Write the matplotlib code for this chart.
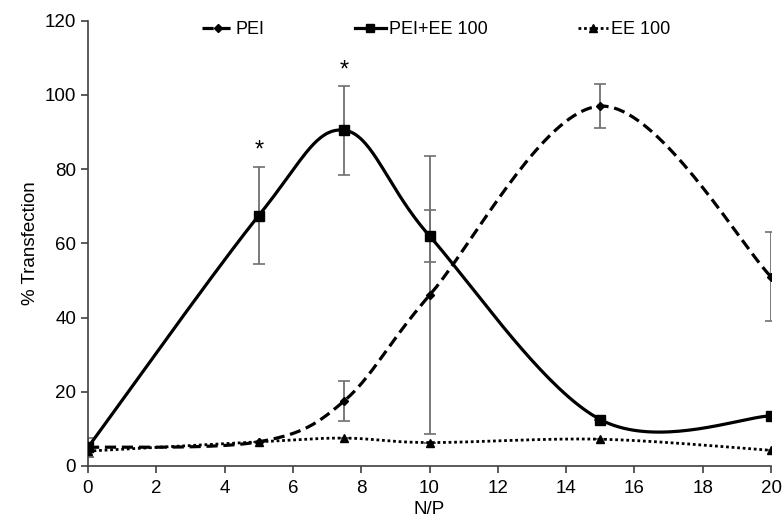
from matplotlib import pyplot as plt
import numpy as np

plt.rcParams['font.family'] = ['Liberation Sans', 'DejaVu Sans']

# N/P ratios
np_ratio = [0, 5, 7.5, 10, 15, 20]

# % transfection
pei = [5, 6.5, 17.5, 46, 97, 51]
pei_err = [0, 0, 5.5, 37.5, 6, 12]
pei_ee = [5, 67.5, 90.5, 62, 12.5, 13.5]
pei_ee_err = [2.5, 13, 12, 7, 0, 0]
ee = [4, 6.5, 7.5, 6.3, 7.2, 4.2]
ee_err = [1.5, 0, 0, 0, 0, 0]

star_x = [5, 7.5]
star_y = [85, 106.5]


def smooth(xs, ys, n=40):
    # Excel-like smoothed line: Catmull-Rom bezier in scaled coords
    p = np.column_stack([np.array(xs) / 20.0, np.array(ys) / 120.0])
    p = np.vstack([p[0], p, p[-1]])
    out = []
    for i in range(1, len(p) - 2):
        p0, p1, p2, p3 = p[i - 1], p[i], p[i + 1], p[i + 2]
        c1 = p1 + (p2 - p0) / 6.0
        c2 = p2 - (p3 - p1) / 6.0
        t = np.linspace(0, 1, n)[:, None]
        seg = ((1 - t) ** 3) * p1 + 3 * ((1 - t) ** 2) * t * c1 + 3 * (1 - t) * t ** 2 * c2 + t ** 3 * p2
        out.append(seg)
    out = np.vstack(out)
    return out[:, 0] * 20.0, out[:, 1] * 120.0


fig = plt.figure(figsize=(7.82, 5.2), dpi=100)
ax = fig.add_axes([0.1125, 0.104, 0.8735, 0.856])

ecol = '#707070'
for yv, ye in [(pei, pei_err), (pei_ee, pei_ee_err), (ee, ee_err)]:
    ax.errorbar(np_ratio, yv, yerr=ye, fmt='none', ecolor=ecol, elinewidth=1.3,
                capsize=4, capthick=1.2, zorder=2)

dash = (0, (3.5, 1.8))
dot = (0, (1, 1))

sx, sy = smooth(np_ratio, pei)
ax.plot(sx, sy, color='black', lw=2.3, ls=dash, zorder=3)
ax.plot(np_ratio, pei, ls='none', marker='D', ms=4.5, color='black', zorder=4)

sx, sy = smooth(np_ratio, pei_ee)
ax.plot(sx, sy, color='black', lw=2.3, ls='-', zorder=3)
ax.plot(np_ratio, pei_ee, ls='none', marker='s', ms=6.5, color='black', zorder=4)

sx, sy = smooth(np_ratio, ee)
ax.plot(sx, sy, color='black', lw=2.0, ls=dot, zorder=3)
ax.plot(np_ratio, ee, ls='none', marker='^', ms=5.5, color='black', zorder=4)

for x, y in zip(star_x, star_y):
    ax.text(x, y, '*', ha='center', va='center', fontsize=17)

# legend handles
ax.plot([], [], color='black', lw=2.3, ls=dash, marker='D', ms=4.5, label='PEI')
ax.plot([], [], color='black', lw=2.3, ls='-', marker='s', ms=6, label='PEI+EE 100')
ax.plot([], [], color='black', lw=2.0, ls=dot, marker='^', ms=5.5, label='EE 100')
h, l = ax.get_legend_handles_labels()
ax.legend(h, l, ncol=3, loc='upper center', bbox_to_anchor=(0.51, 1.035), frameon=False,
          fontsize=13, handlelength=1.7, handletextpad=0.15, columnspacing=5.0)

ax.set_xlim(0, 20)
ax.set_ylim(0, 120)
ax.set_xticks(range(0, 21, 2))
ax.set_yticks(range(0, 121, 20))
for s in ['top', 'right']:
    ax.spines[s].set_visible(False)
for s in ['left', 'bottom']:
    ax.spines[s].set_color('#404040')
    ax.spines[s].set_linewidth(1.2)
ax.tick_params(axis='both', labelsize=13.5, color='#404040', length=5, width=1.2)
ax.tick_params(axis='x', pad=5)
ax.set_xlabel('N/P', fontsize=13.5, labelpad=3)
ax.set_ylabel('% Transfection', fontsize=13.5, labelpad=4)

fig.savefig('out.png', dpi=100)
